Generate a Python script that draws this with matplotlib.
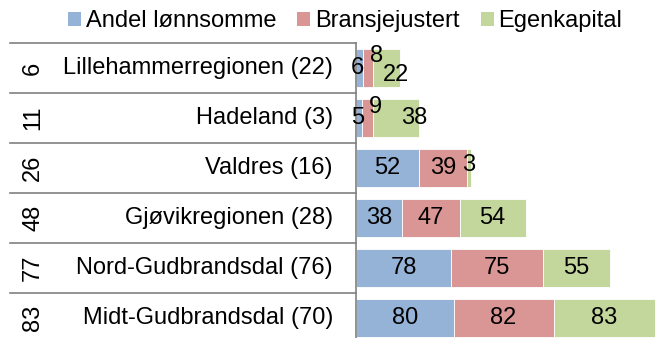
import matplotlib
matplotlib.use("Agg")
import matplotlib.pyplot as plt
from matplotlib.patches import Patch
from matplotlib.transforms import blended_transform_factory

plt.rcParams['font.family'] = ['Liberation Sans', 'DejaVu Sans']

regions = ["Lillehammerregionen (22)", "Hadeland (3)", "Valdres (16)",
           "Gjøvikregionen (28)", "Nord-Gudbrandsdal (76)", "Midt-Gudbrandsdal (70)"]
rank = [6, 11, 26, 48, 77, 83]
andel = [6, 5, 52, 38, 78, 80]
bransje = [8, 9, 39, 47, 75, 82]
egenkap = [22, 38, 3, 54, 55, 83]

series = [("Andel lønnsomme", andel, "#95b3d7"),
          ("Bransjejustert", bransje, "#d99694"),
          ("Egenkapital", egenkap, "#c3d69b")]

# nudges (points) for labels that would not fit inside their segment
nudge = {
    (0, 0): (-2, 0), (0, 1): (6, 9), (0, 2): (7, -5),
    (1, 0): (-1, 0), (1, 1): (6, 8), (1, 2): (13, 0),
    (2, 2): (0, 2),
}

W, H = 656, 338
fig = plt.figure(figsize=(W / 100, H / 100), dpi=100)
ax = fig.add_axes([356 / W, 0, (W - 356) / W, (H - 43) / H])

n = len(regions)
ypos = list(range(n))
left = [0] * n
for si, (name, vals, col) in enumerate(series):
    bars = ax.barh(ypos, vals, left=left, height=0.76, color=col,
                   edgecolor="white", linewidth=0.6)
    for ri, (b, v) in enumerate(zip(bars, vals)):
        cx = b.get_x() + b.get_width() / 2
        cy = b.get_y() + b.get_height() / 2
        dx, dy = nudge.get((ri, si), (0, 0))
        ax.annotate(str(v), (cx, cy), xytext=(dx, dy), textcoords="offset points",
                    ha="center", va="center", fontsize=17, color="black",
                    annotation_clip=False)
    left = [l + v for l, v in zip(left, vals)]

ax.set_xlim(0, 246)
ax.set_ylim(5.4, -0.5)
ax.set_xticks([])
ax.set_yticks([])
for s in ["top", "right", "bottom"]:
    ax.spines[s].set_visible(False)
ax.spines["left"].set_color("#808080")
ax.spines["left"].set_linewidth(1.2)

# table on the left: rank column, region names, row separators
tr = blended_transform_factory(fig.transFigure, ax.transData)
for i in range(n):
    ax.text(333 / W, i, regions[i], transform=tr, ha="right", va="center",
            fontsize=17, clip_on=False)
    ax.text(33 / W, i, str(rank[i]), transform=tr, ha="center", va="center",
            rotation=90, fontsize=17, clip_on=False)
for y in [b - 0.5 for b in range(n)]:
    ax.plot([10 / W, 356 / W], [y, y], transform=tr, color="#808080",
            linewidth=1.2, clip_on=False)

handles = [Patch(facecolor=c) for _, _, c in series]
fig.legend(handles, [s[0] for s in series], loc="center left",
           bbox_to_anchor=(56 / W, 1 - 21 / H), ncol=3, frameon=False,
           fontsize=17, handlelength=0.55, handleheight=0.55,
           handletextpad=0.2, columnspacing=0.9, borderpad=0)

fig.savefig("out.png", dpi=100)
